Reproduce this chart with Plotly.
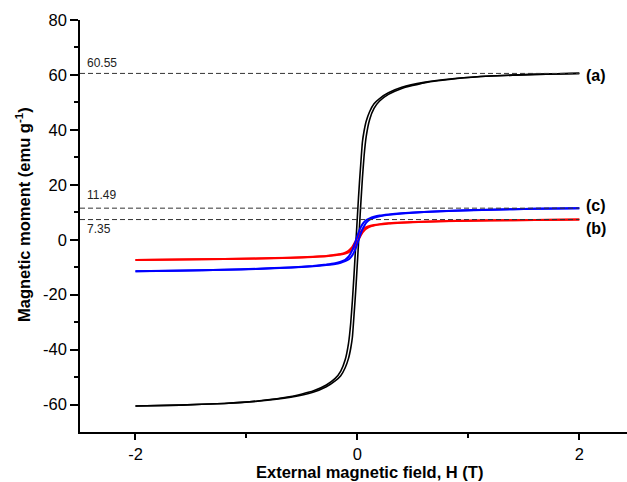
import plotly.graph_objects as go

# Applied field grid (T), shared by every branch
field = [-2.0, -1.6, -1.2, -0.9, -0.6, -0.4, -0.28, -0.2, -0.15, -0.11, -0.08,
         -0.06, -0.045, -0.03, -0.02, -0.01, 0.0, 0.01, 0.02, 0.03, 0.045, 0.06,
         0.08, 0.11, 0.15, 0.2, 0.28, 0.4, 0.6, 0.9, 1.2, 1.6, 2.0]

# (a) magnetic moment, emu/g
a_up = [-60.55, -60.2, -59.6, -58.8, -57.3, -55.5, -53.5, -51.4, -49.5, -46.6, -43.2,
        -39.5, -35.5, -27.3, -21.6, -15.3, -8.4, -1.4, 5.6, 12.6, 22.2, 30.3,
        37.7, 43.7, 47.8, 50.5, 52.9, 55.1, 57.1, 58.7, 59.6, 60.2, 60.55]
a_down = [-60.55, -60.2, -59.6, -58.7, -57.1, -55.1, -52.9, -50.5, -47.8, -43.7, -37.7,
          -30.3, -22.2, -12.6, -5.6, 1.4, 8.4, 15.3, 21.6, 27.3, 35.5, 39.5,
          43.2, 46.6, 49.5, 51.4, 53.5, 55.5, 57.3, 58.8, 59.6, 60.2, 60.55]

# (b)
b_up = [-7.35, -7.22, -7.05, -6.87, -6.57, -6.28, -6.0, -5.68, -5.4, -5.05, -4.55,
        -4.1, -3.55, -2.9, -2.2, -1.5, -0.8, 0.0, 0.8, 1.5, 2.6, 3.3,
        4.0, 4.7, 5.2, 5.5, 5.9, 6.2, 6.53, 6.83, 7.03, 7.21, 7.35]
b_down = [-7.35, -7.21, -7.03, -6.83, -6.53, -6.2, -5.9, -5.5, -5.2, -4.7, -4.0,
          -3.3, -2.6, -1.5, -0.8, 0.0, 0.8, 1.5, 2.2, 2.9, 3.55, 4.1,
          4.55, 5.05, 5.4, 5.68, 6.0, 6.28, 6.57, 6.87, 7.05, 7.22, 7.35]

# (c)
c_up = [-11.49, -11.26, -10.96, -10.62, -10.13, -9.65, -9.2, -8.8, -8.35, -7.8, -7.2,
        -6.4, -5.6, -4.5, -3.6, -2.6, -1.4, -0.2, 1.0, 2.2, 3.8, 4.9,
        6.2, 7.3, 8.0, 8.55, 9.05, 9.55, 10.07, 10.58, 10.94, 11.24, 11.49]
c_down = [-11.49, -11.24, -10.94, -10.58, -10.07, -9.55, -9.05, -8.55, -8.0, -7.3, -6.2,
          -4.9, -3.8, -2.2, -1.0, 0.2, 1.4, 2.6, 3.6, 4.5, 5.6, 6.4,
          7.2, 7.8, 8.35, 8.8, 9.2, 9.65, 10.13, 10.62, 10.96, 11.26, 11.49]

# Saturation magnetisation of each sample
sat_values = [60.55, 7.35, 11.49]
sat_labels = ["60.55", "7.35", "11.49"]
curve_labels = ["(a)", "(b)", "(c)"]

x_ticks = [-2, 0, 2]
y_ticks = [-60, -40, -20, 0, 20, 40, 60, 80]

FONT = "Liberation Sans, Arial, sans-serif"

fig = go.Figure()

series = [
    (a_up, a_down, "black", 1.6),
    (b_up, b_down, "#ff0000", 2.0),
    (c_up, c_down, "#0000ff", 2.0),
]
for up, down, colour, w in series:
    for branch in (up, down):
        fig.add_trace(go.Scatter(
            x=field, y=branch, mode="lines",
            line=dict(color=colour, width=w, shape="spline", smoothing=0.4),
            showlegend=False, hoverinfo="skip"))

# dashed saturation guides from the axis to H = 2 T
for v in sat_values:
    fig.add_trace(go.Scatter(
        x=[-2.5, 2.0], y=[v, v], mode="lines",
        line=dict(color="#333333", width=1, dash="5px,3px"),
        showlegend=False, hoverinfo="skip"))

# value labels next to the guides
value_pos = {"60.55": 62.7, "11.49": 195.0, "7.35": 229.3}
for lab in sat_labels:
    fig.add_annotation(
        xref="paper", yref="paper", x=(85 - 80) / 547,
        y=1 - (value_pos[lab] - 20) / 412, xanchor="left", yanchor="middle",
        text=lab, showarrow=False, font=dict(family=FONT, size=12, color="#222222"))

# sample labels at the right end of each curve
curve_pos = {"(a)": 75.0, "(b)": 228.3, "(c)": 205.7}
for lab in curve_labels:
    fig.add_annotation(
        xref="paper", yref="paper", x=(584 - 80) / 547,
        y=1 - (curve_pos[lab] - 20) / 412, xanchor="left", yanchor="middle",
        text="<b>" + lab + "</b>", showarrow=False,
        font=dict(family=FONT, size=16, color="black"))

# axis titles
fig.add_annotation(
    xref="paper", yref="paper", x=(369 - 80) / 547, y=1 - (472.5 - 20) / 412,
    xanchor="center", yanchor="middle", showarrow=False,
    text="<b>External magnetic field, H (T)</b>",
    font=dict(family=FONT, size=16.5, color="black"))
fig.add_annotation(
    xref="paper", yref="paper", x=(23 - 80) / 547, y=1 - (215 - 20) / 412,
    xanchor="center", yanchor="middle", showarrow=False, textangle=-90,
    text="<b>Magnetic moment (emu g<sup>-1</sup>)</b>",
    font=dict(family=FONT, size=16.5, color="black"))

fig.update_layout(
    width=627, height=482,
    margin=dict(l=80, r=0, t=20, b=50),
    paper_bgcolor="white", plot_bgcolor="white",
    font=dict(family=FONT, size=16, color="black"),
    xaxis=dict(
        range=[-2.5, 2.43], tickvals=x_ticks, ticktext=[str(t) for t in x_ticks],
        showgrid=False, zeroline=False, showline=True, linecolor="black",
        linewidth=1.5, ticks="outside", ticklen=6, tickwidth=1.5, tickcolor="black",
        minor=dict(tickvals=[-1, 1], ticks="outside", ticklen=4, tickwidth=1.5,
                   tickcolor="black", showgrid=False),
        tickfont=dict(family=FONT, size=16.5), fixedrange=True),
    yaxis=dict(
        range=[-70, 80], tickvals=y_ticks, ticktext=[str(t) for t in y_ticks],
        showgrid=False, zeroline=False, showline=True, linecolor="black",
        linewidth=1.5, ticks="outside", ticklen=8, tickwidth=1.5, tickcolor="black",
        minor=dict(tickvals=[-50, -30, -10, 10, 30, 50, 70], ticks="outside",
                   ticklen=4, tickwidth=1.5, tickcolor="black", showgrid=False),
        tickfont=dict(family=FONT, size=16.5), fixedrange=True),
)

fig.write_html("out.html")
